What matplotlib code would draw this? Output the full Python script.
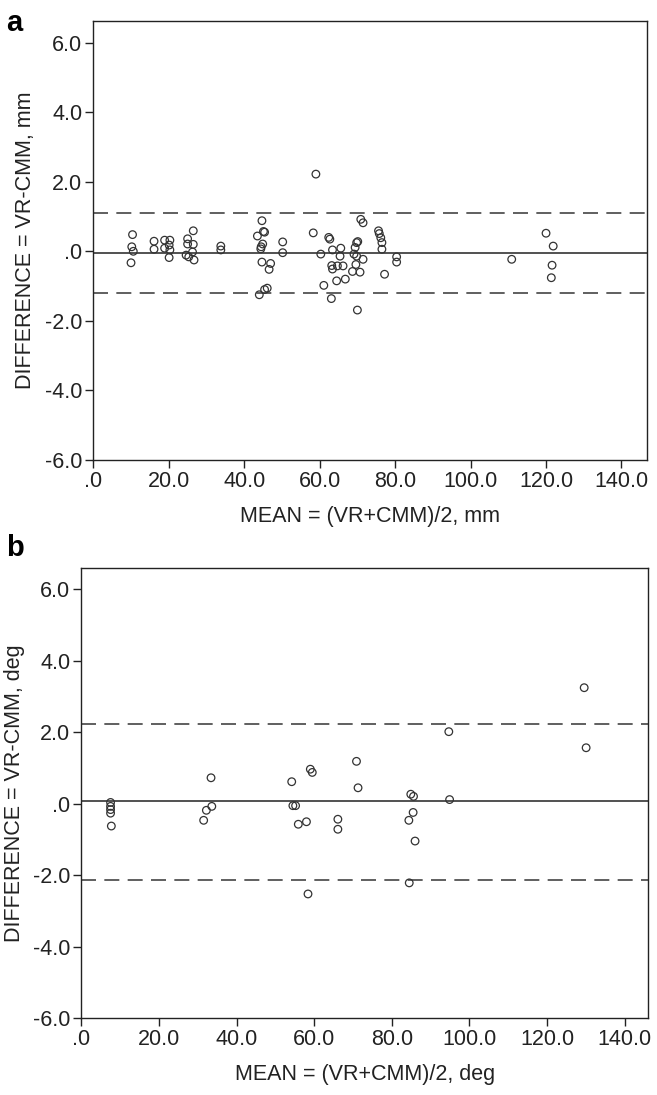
import numpy as np
import matplotlib.pyplot as plt
from matplotlib.ticker import FuncFormatter, MultipleLocator

plt.rcParams['font.family'] = ['Liberation Sans', 'DejaVu Sans']

# panel a: distances (mm)
mean_a = [10.4, 10.2, 10.6, 10.0, 16.1, 16.1, 18.9, 18.9, 20.3, 20.1, 20.3, 20.1,
          25.0, 25.0, 24.6, 25.3, 26.5, 26.5, 26.3, 26.7, 33.8, 33.8,
          44.7, 45.1, 45.4, 43.5, 44.9, 44.5, 44.4, 44.7, 47.0, 46.6, 46.1, 45.4, 44.0,
          50.2, 50.2, 59.0, 58.3, 60.3, 61.1, 62.4, 62.7, 63.4, 63.1,
          63.2, 63.4, 64.7, 66.2, 65.6, 65.4, 64.5, 66.8, 68.7,
          69.4, 69.8, 70.1, 69.1, 69.8, 69.6, 70.7, 71.5, 70.0, 70.9, 71.5,
          75.6, 75.8, 76.2, 76.5, 76.5, 77.2, 80.4, 80.4,
          110.9, 120.0, 121.9, 121.6, 121.4]
diff_a = [0.48, 0.13, 0.00, -0.33, 0.29, 0.06, 0.32, 0.09, 0.32, 0.18, 0.04, -0.18,
          0.36, 0.21, -0.11, -0.16, 0.59, 0.20, -0.02, -0.25, 0.15, 0.04,
          0.88, 0.57, 0.55, 0.44, 0.21, 0.13, 0.07, -0.31, -0.35, -0.52, -1.06, -1.10, -1.25,
          0.27, -0.04, 2.22, 0.53, -0.08, -0.98, 0.40, 0.35, 0.04, -1.36,
          -0.41, -0.51, -0.42, -0.42, 0.09, -0.14, -0.85, -0.80, -0.58,
          0.11, 0.25, 0.28, -0.08, -0.14, -0.38, -0.60, -0.23, -1.69, 0.92, 0.82,
          0.59, 0.51, 0.39, 0.25, 0.06, -0.66, -0.16, -0.31,
          -0.23, 0.52, 0.15, -0.40, -0.76]
lines_a = [-0.06, 1.09, -1.21]  # bias, upper LoA, lower LoA

# panel b: angles (deg)
mean_b = [7.5, 7.5, 7.5, 7.5, 7.7, 31.5, 32.2, 33.6, 33.4,
          54.2, 54.5, 55.2, 55.9, 58.0, 59.0, 59.5, 58.4, 66.1, 66.1,
          70.9, 71.3, 84.9, 85.6, 85.5, 84.4, 86.0, 84.5,
          94.7, 94.9, 129.6, 130.1]
diff_b = [0.04, -0.07, -0.16, -0.26, -0.62, -0.46, -0.18, -0.07, 0.73,
          0.62, -0.05, -0.05, -0.57, -0.50, 0.97, 0.88, -2.52, -0.43, -0.71,
          1.19, 0.45, 0.27, 0.21, -0.24, -0.46, -1.04, -2.21,
          2.02, 0.12, 3.25, 1.57]
lines_b = [0.07, 2.24, -2.12]


def fmt(v, pos):
    s = '%.1f' % v
    if s in ('0.0', '-0.0'):
        s = '.0'
    return s


def bland_altman(ax, x, y, lines, xmax, ymax, unit):
    ax.scatter(x, y, s=30, facecolors='none', edgecolors='#333333', linewidths=0.9, zorder=3)
    ax.axhline(lines[0], color='#333333', lw=1.2)
    for v in lines[1:]:
        ax.axhline(v, color='#444444', lw=1.2, dashes=(9, 5))
    ax.set_xlim(0, xmax)
    ax.set_ylim(-6, ymax)
    ax.xaxis.set_major_locator(MultipleLocator(20))
    ax.yaxis.set_major_locator(MultipleLocator(2))
    ax.xaxis.set_major_formatter(FuncFormatter(fmt))
    ax.yaxis.set_major_formatter(FuncFormatter(fmt))
    ax.tick_params(direction='out', length=6, width=1, labelsize=15.5, pad=2, colors='#222222')
    ax.tick_params(top=False, right=False)
    for sp in ax.spines.values():
        sp.set_linewidth(1)
        sp.set_color('#222222')
    ax.set_xlabel('MEAN = (VR+CMM)/2, ' + unit, fontsize=15.5, labelpad=10, color='#222222')
    ax.set_ylabel('DIFFERENCE = VR-CMM, ' + unit, fontsize=15.5, labelpad=6, color='#222222')


fig = plt.figure(figsize=(6.57, 10.95), dpi=100)
ax1 = fig.add_axes([0.142, 0.580, 0.843, 0.401])
ax2 = fig.add_axes([0.124, 0.070, 0.862, 0.411])

bland_altman(ax1, mean_a, diff_a, lines_a, 146.8, 6.63, 'mm')
bland_altman(ax2, mean_b, diff_b, lines_b, 146.0, 6.59, 'deg')

fig.text(0.010, 0.992, 'a', fontsize=21, fontweight='bold', va='top', ha='left')
fig.text(0.010, 0.512, 'b', fontsize=21, fontweight='bold', va='top', ha='left')

fig.savefig('out.png', dpi=100)
